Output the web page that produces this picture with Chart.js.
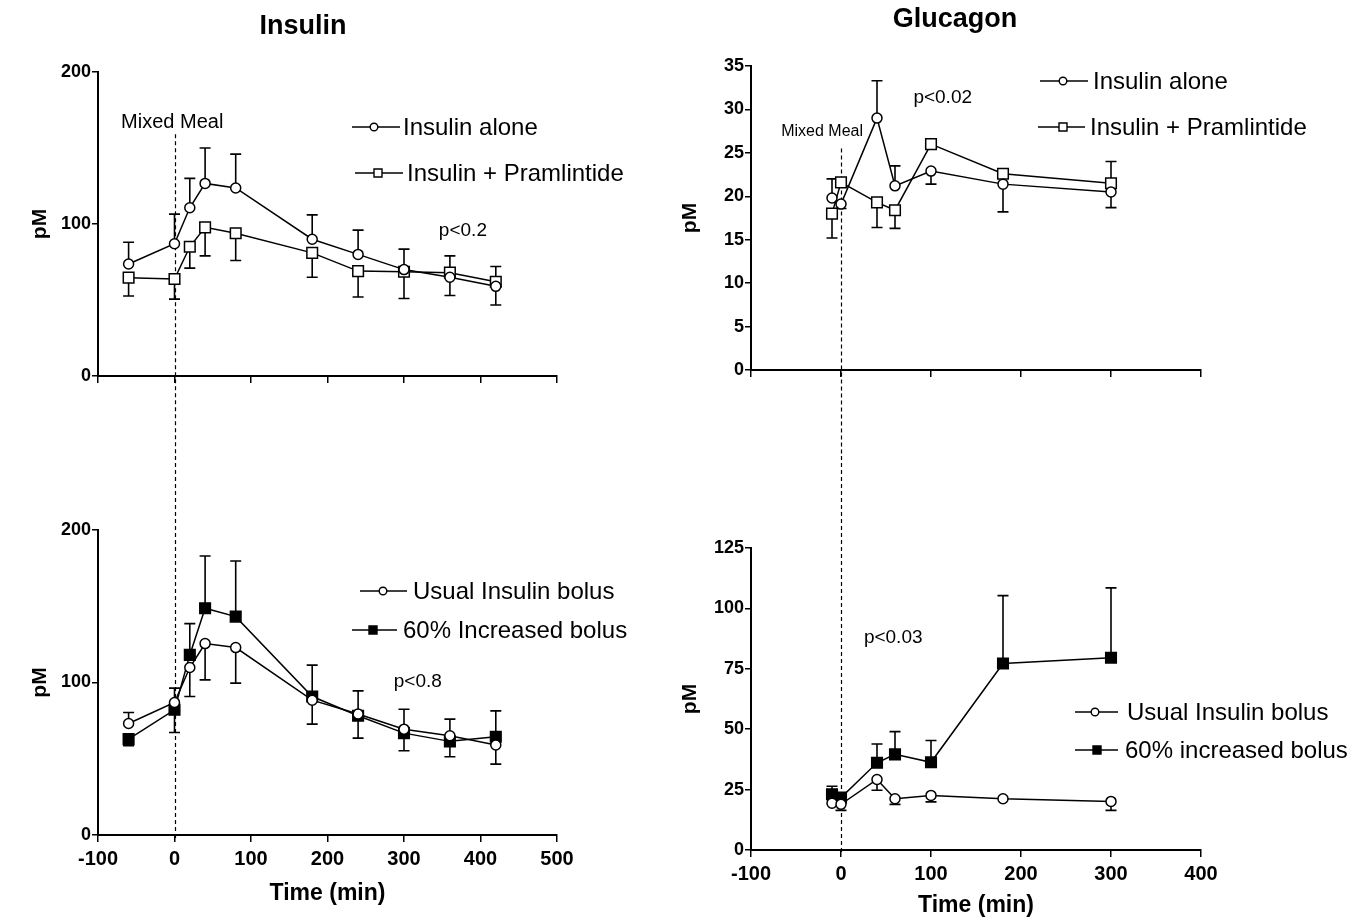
<!DOCTYPE html>
<html>
<head>
<meta charset="utf-8">
<title>Insulin / Glucagon</title>
<script src="https://cdn.jsdelivr.net/npm/chart.js@4.4.1/dist/chart.umd.min.js"></script>
<style>
    body { margin: 0; background: #fff; width: 1355px; height: 919px; position: relative; overflow: hidden; }
    .panel { position: absolute; }
</style>
</head>
<body>
<div class="panel" style="left:0;top:0;width:660px;height:456px"><canvas id="chartInsTop"></canvas></div>
<div class="panel" style="left:0;top:456px;width:660px;height:463px"><canvas id="chartInsBottom"></canvas></div>
<div class="panel" style="left:640px;top:0;width:715px;height:456px"><canvas id="chartGluTop"></canvas></div>
<div class="panel" style="left:640px;top:456px;width:715px;height:463px"><canvas id="chartGluBottom"></canvas></div>

<script>
// ---- DATA ----
// Insulin, top: insulin alone vs insulin + pramlintide
const insTime = [-60, 0, 20, 40, 80, 180, 240, 300, 360, 420];
const insAlone = [73.7, 87, 110.7, 126.7, 123.7, 90, 80, 70, 65, 59];
const insAloneHi = [88, 106.5, 130, 150, 146, 106, 96, 83.5, 79, null];
const insAloneLo = [null, null, null, null, null, null, null, null, null, 46.7];
const insPram = [64.7, 63.8, 85, 97.8, 93.9, 81, 69, 68.6, 68, 62];
const insPramHi = [null, null, null, null, null, null, null, null, null, 72];
const insPramLo = [52.6, 50.6, 71, 79, 76, 65, 52, 51, 53, null];

// Insulin, bottom: usual bolus vs 60% increased bolus
const insUsual = [73.1, 86.9, 109.8, 125.5, 122.9, 88.4, 79.3, 69.4, 65.1, 59.0];
const insUsualHi = [80.3, 96.3, null, null, null, null, 94.5, 82.5, 76, null];
const insUsualLo = [null, null, 90.8, 101.7, 99.6, 72.7, null, null, null, 46.5];
const insInc = [62.9, 82.1, 118.1, 148.7, 143.2, 90.8, 78.2, 66.8, 61.4, 64.4];
const insIncHi = [null, null, 138.6, 183, 179.7, 111.4, null, null, null, 81.4];
const insIncLo = [58.5, 67.2, null, null, null, null, 63.5, 55.2, 51.3, null];

// Glucagon, top
const gluTime = [-10, 0, 40, 60, 100, 180, 300];
const gluAlone = [19.8, 19.1, 29.0, 21.2, 22.9, 21.4, 20.5];
const gluAloneHi = [22.0, null, 33.3, 23.5, null, null, null];
const gluAloneLo = [null, 18.6, null, null, 21.4, 18.2, 18.7];
const gluPram = [18.0, 21.6, 19.3, 18.4, 26.0, 22.6, 21.5];
const gluPramHi = [null, null, null, null, null, null, 24.0];
const gluPramLo = [15.2, null, 16.4, 16.3, null, null, null];

// Glucagon, bottom
const gluUsual = [19.4, 18.9, 29.2, 21.2, 22.6, 21.2, 20.1];
const gluUsualLo = [null, 16.4, 24.7, 18.9, 19.9, null, 16.4];
const gluInc = [23.1, 21.7, 36.1, 39.6, 36.3, 77.2, 79.6];
const gluIncHi = [26.4, null, 43.9, 49.0, 45.3, 105.3, 108.5];

const insYTicks = [0, 100, 200];
const gluTopYTicks = [0, 5, 10, 15, 20, 25, 30, 35];
const gluBotYTicks = [0, 25, 50, 75, 100, 125];

Chart.defaults.font.family = '"Liberation Sans", Arial, Helvetica, sans-serif';
Chart.defaults.color = '#000';

// ---- PLUGINS ----
const errorBars = {
    id: 'errorBars',
    beforeDatasetsDraw(chart) {
        const { ctx, scales: { x, y } } = chart;
        ctx.save();
        ctx.strokeStyle = '#000';
        ctx.lineWidth = 1.6;
        chart.data.datasets.forEach(ds => {
            ds.data.forEach((pt, i) => {
                const px = x.getPixelForValue(pt.x);
                const py = y.getPixelForValue(pt.y);
                [ds.errHi && ds.errHi[i], ds.errLo && ds.errLo[i]].forEach(v => {
                    if (v == null) return;
                    const pe = y.getPixelForValue(v);
                    ctx.beginPath();
                    ctx.moveTo(px, py);
                    ctx.lineTo(px, pe);
                    ctx.moveTo(px - 5.5, pe);
                    ctx.lineTo(px + 5.5, pe);
                    ctx.stroke();
                });
            });
        });
        ctx.restore();
    }
};

// dashed "Mixed Meal" line, runs across both panels of a column
const mealLine = {
    id: 'mealLine',
    beforeDatasetsDraw(chart, args, opts) {
        if (opts.at == null) return;
        const { ctx, scales: { x, y }, chartArea } = chart;
        const px = Math.round(x.getPixelForValue(opts.at)) + 0.5;
        const top = opts.from != null ? y.getPixelForValue(opts.from) : 0;
        const bottom = opts.toEdge ? chart.height : chartArea.bottom + 5;
        ctx.save();
        ctx.strokeStyle = '#000';
        ctx.lineWidth = 1.2;
        ctx.setLineDash([4, 3]);
        ctx.beginPath();
        ctx.moveTo(px, top);
        ctx.lineTo(px, bottom);
        ctx.stroke();
        ctx.restore();
    }
};

const notes = {
    id: 'notes',
    afterDraw(chart, args, opts) {
        const { ctx, scales: { x, y } } = chart;
        ctx.save();
        ctx.fillStyle = '#000';
        ctx.textAlign = 'center';
        ctx.textBaseline = 'middle';
        (opts.items || []).forEach(n => {
            ctx.font = `${n.size}px "Liberation Sans", Arial, sans-serif`;
            ctx.fillText(n.text, x.getPixelForValue(n.x), y.getPixelForValue(n.y));
        });
        if (opts.title) {
            ctx.font = 'bold 27px "Liberation Sans", Arial, sans-serif';
            ctx.fillText(opts.title.text, opts.title.cx, opts.title.cy);
        }
        ctx.restore();
    }
};

function drawMarker(ctx, ds, cx, cy, small) {
    ctx.fillStyle = ds.pointBackgroundColor;
    ctx.strokeStyle = '#000';
    ctx.lineWidth = 1.4;
    ctx.beginPath();
    if (ds.pointStyle === 'rect') {
        const h = small ? 4 : 5;
        ctx.rect(cx - h, cy - h, 2 * h, 2 * h);
    } else {
        ctx.arc(cx, cy, small ? 3.8 : 4.5, 0, Math.PI * 2);
    }
    ctx.fill();
    ctx.stroke();
}

const keyBox = {
    id: 'keyBox',
    afterDraw(chart, args, opts) {
        const { ctx } = chart;
        ctx.save();
        (opts.rows || []).forEach((r, i) => {
            const ds = chart.data.datasets[i];
            ctx.strokeStyle = '#000';
            ctx.lineWidth = 1.5;
            ctx.beginPath();
            ctx.moveTo(r.x0, r.y);
            ctx.lineTo(r.x1, r.y);
            ctx.stroke();
            drawMarker(ctx, ds, r.mx, r.y, true);
            ctx.fillStyle = '#000';
            ctx.font = '24px "Liberation Sans", Arial, sans-serif';
            ctx.textAlign = 'left';
            ctx.textBaseline = 'middle';
            ctx.fillText(ds.label, r.tx, r.y + 1);
        });
        ctx.restore();
    }
};

// ---- BUILDERS ----
function series(label, xs, ys, hi, lo, style, filled) {
    return {
        label: label,
        data: xs.map((t, i) => ({ x: t, y: ys[i] })),
        errHi: hi,
        errLo: lo,
        borderColor: '#000',
        borderWidth: 1.5,
        pointStyle: style,
        pointRadius: style === 'rect' ? 7.5 : 5,
        pointBorderWidth: 1.5,
        pointBorderColor: '#000',
        pointBackgroundColor: filled ? '#000' : '#fff',
        fill: false,
        tension: 0
    };
}

function makeChart(id, cfg) {
    const ctx = document.getElementById(id).getContext('2d');
    return new Chart(ctx, {
        type: 'line',
        data: { datasets: cfg.datasets },
        options: {
            responsive: true,
            maintainAspectRatio: false,
            animation: false,
            events: [],
            layout: { padding: cfg.padding },
            scales: {
                x: {
                    type: 'linear',
                    min: cfg.xMin,
                    max: cfg.xMax,
                    afterBuildTicks: s => { s.ticks = cfg.xTicks.map(v => ({ value: v })); },
                    afterFit: s => { s.height = cfg.xHeight; },
                    ticks: {
                        display: cfg.xLabels,
                        autoSkip: false,
                        maxRotation: 0,
                        padding: 5,
                        font: { size: 20, weight: 'bold' },
                        color: '#000'
                    },
                    grid: { drawOnChartArea: false, tickLength: 7, color: '#000', lineWidth: 1.5 },
                    border: { color: '#000', width: 2 },
                    title: {
                        display: cfg.xLabels,
                        text: 'Time (min)',
                        font: { size: 23, weight: 'bold' },
                        color: '#000',
                        padding: { top: 0, bottom: cfg.xTitlePad }
                    }
                },
                y: {
                    type: 'linear',
                    min: cfg.yTicks[0],
                    max: cfg.yTicks[cfg.yTicks.length - 1],
                    afterBuildTicks: s => { s.ticks = cfg.yTicks.map(v => ({ value: v })); },
                    afterFit: s => { s.width = cfg.yWidth; },
                    ticks: {
                        padding: 1,
                        font: { size: 18, weight: 'bold' },
                        color: '#000'
                    },
                    grid: { drawOnChartArea: false, tickLength: 6, color: '#000', lineWidth: 1.5 },
                    border: { color: '#000', width: 2 },
                    title: {
                        display: true,
                        text: 'pM',
                        font: { size: 21, weight: 'bold' },
                        color: '#000',
                        padding: { top: cfg.yTitlePad, bottom: 0 }
                    }
                }
            },
            plugins: {
                legend: { display: false },
                tooltip: { enabled: false },
                mealLine: cfg.meal,
                notes: { items: cfg.notes, title: cfg.title },
                keyBox: { rows: cfg.keys }
            }
        },
        plugins: [errorBars, mealLine, notes, keyBox]
    });
}

// ---- PANELS ----
document.addEventListener('DOMContentLoaded', () => {
    makeChart('chartInsTop', {
        datasets: [
            series('Insulin alone', insTime, insAlone, insAloneHi, insAloneLo, 'circle', false),
            series('Insulin + Pramlintide', insTime, insPram, insPramHi, insPramLo, 'rect', false)
        ],
        padding: { top: 72, left: 0, right: 103, bottom: 0 },
        xMin: -100, xMax: 500, xTicks: [-100, 0, 100, 200, 300, 400, 500], xLabels: false,
        xHeight: 80, xTitlePad: 0,
        yTicks: insYTicks, yWidth: 98, yTitlePad: 28,
        meal: { at: 0, from: 159, toEdge: true },
        title: { text: 'Insulin', cx: 303, cy: 27 },
        notes: [
            { text: 'Mixed Meal', x: -3, y: 167, size: 20 },
            { text: 'p<0.2', x: 377, y: 95.4, size: 19 }
        ],
        keys: [
            { y: 127, x0: 352, x1: 400, mx: 374, tx: 403 },
            { y: 173, x0: 355, x1: 403, mx: 378, tx: 407 }
        ]
    });

    makeChart('chartInsBottom', {
        datasets: [
            series('Usual Insulin bolus', insTime, insUsual, insUsualHi, insUsualLo, 'circle', false),
            series('60% Increased bolus', insTime, insInc, insIncHi, insIncLo, 'rect', true)
        ],
        padding: { top: 74, left: 0, right: 103, bottom: 0 },
        xMin: -100, xMax: 500, xTicks: [-100, 0, 100, 200, 300, 400, 500], xLabels: true,
        xHeight: 84, xTitlePad: 12,
        yTicks: insYTicks, yWidth: 98, yTitlePad: 28,
        meal: { at: 0, from: null, toEdge: false },
        title: null,
        notes: [
            { text: 'p<0.8', x: 318, y: 100.7, size: 19 }
        ],
        keys: [
            { y: 135, x0: 360, x1: 407, mx: 383, tx: 413 },
            { y: 174, x0: 352, x1: 397, mx: 373, tx: 403 }
        ]
    });

    makeChart('chartGluTop', {
        datasets: [
            series('Insulin alone', gluTime, gluAlone, gluAloneHi, gluAloneLo, 'circle', false),
            series('Insulin + Pramlintide', gluTime, gluPram, gluPramHi, gluPramLo, 'rect', false)
        ],
        padding: { top: 66, left: 0, right: 154, bottom: 0 },
        xMin: -100, xMax: 400, xTicks: [-100, 0, 100, 200, 300, 400], xLabels: false,
        xHeight: 86, xTitlePad: 0,
        yTicks: gluTopYTicks, yWidth: 111, yTitlePad: 38,
        meal: { at: 0, from: 25.5, toEdge: true },
        title: { text: 'Glucagon', cx: 315, cy: 20 },
        notes: [
            { text: 'Mixed Meal', x: -21, y: 27.5, size: 16 },
            { text: 'p<0.02', x: 113, y: 31.4, size: 19 }
        ],
        keys: [
            { y: 81, x0: 400, x1: 448, mx: 423, tx: 453 },
            { y: 127, x0: 398, x1: 445, mx: 423, tx: 450 }
        ]
    });

    makeChart('chartGluBottom', {
        datasets: [
            series('Usual Insulin bolus', gluTime, gluUsual, null, gluUsualLo, 'circle', false),
            series('60% increased bolus', gluTime, gluInc, gluIncHi, null, 'rect', true)
        ],
        padding: { top: 92, left: 0, right: 154, bottom: 0 },
        xMin: -100, xMax: 400, xTicks: [-100, 0, 100, 200, 300, 400], xLabels: true,
        xHeight: 69, xTitlePad: 0,
        yTicks: gluBotYTicks, yWidth: 111, yTitlePad: 38,
        meal: { at: 0, from: null, toEdge: false },
        title: null,
        notes: [
            { text: 'p<0.03', x: 58, y: 87.7, size: 19 }
        ],
        keys: [
            { y: 256, x0: 435, x1: 478, mx: 455, tx: 487 },
            { y: 294, x0: 435, x1: 478, mx: 457, tx: 485 }
        ]
    });
});
</script>
</body>
</html>
